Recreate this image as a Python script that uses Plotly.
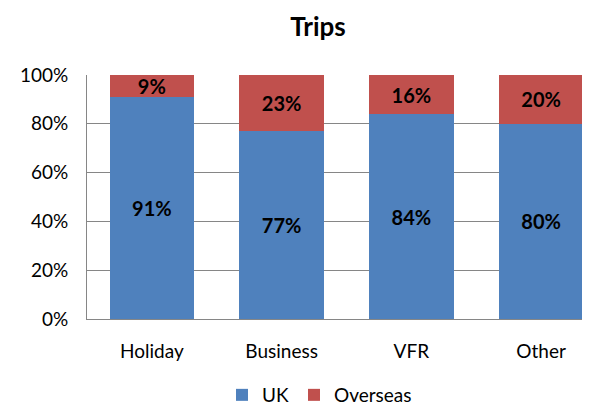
import plotly.graph_objects as go

categories = ["Holiday", "Business", "VFR", "Other"]
uk = [91, 77, 84, 80]
overseas = [9, 23, 16, 20]
y_ticks = [0, 20, 40, 60, 80, 100]
y_tick_labels = ["0%", "20%", "40%", "60%", "80%", "100%"]

FONT = "Lato"
BLUE = "#4F81BD"
RED = "#C0504D"

# The page body has an 8px default margin, so the figure is sized/offset to compensate.
W, H = 582, 399

fig = go.Figure()
for name, vals, col in [("UK", uk, BLUE), ("Overseas", overseas, RED)]:
    fig.add_trace(go.Bar(
        name=name, x=categories, y=vals, marker_color=col, marker_line_width=0,
        text=[f"{v}%" for v in vals], textposition="inside", insidetextanchor="middle",
        constraintext="none", textangle=0,
        textfont=dict(family=FONT, size=20, color="black", weight="bold"),
        cliponaxis=False, hoverinfo="skip",
    ))

fig.update_layout(
    width=W, height=H,
    barmode="stack", bargap=0.35,
    plot_bgcolor="white", paper_bgcolor="white",
    margin=dict(l=79, r=0, t=67, b=88, autoexpand=False),
    font=dict(family=FONT, size=19, color="black"),
    title=dict(text="<b>Trips</b>", x=310 / W, xanchor="center", xref="container",
               y=1 - 19 / H, yanchor="middle", yref="container",
               font=dict(family=FONT, size=26, color="black")),
    showlegend=True,
    legend=dict(orientation="h", x=214 / W, xanchor="left", xref="container",
                y=12 / H, yanchor="middle", yref="container",
                font=dict(family=FONT, size=19, color="black"),
                itemwidth=30, traceorder="normal", itemclick=False),
    xaxis=dict(range=[-0.5, 3.377], showgrid=False, showline=True, linecolor="#868686",
               linewidth=1, ticks="", ticklabelstandoff=15, fixedrange=True),
    yaxis=dict(range=[0, 100], tickvals=y_ticks, ticktext=y_tick_labels,
               showgrid=True, gridcolor="#868686", gridwidth=1, showline=True,
               linecolor="#868686", linewidth=1, ticks="", ticklabelstandoff=14,
               zeroline=False, fixedrange=True),
)

fig.write_html("out.html")
